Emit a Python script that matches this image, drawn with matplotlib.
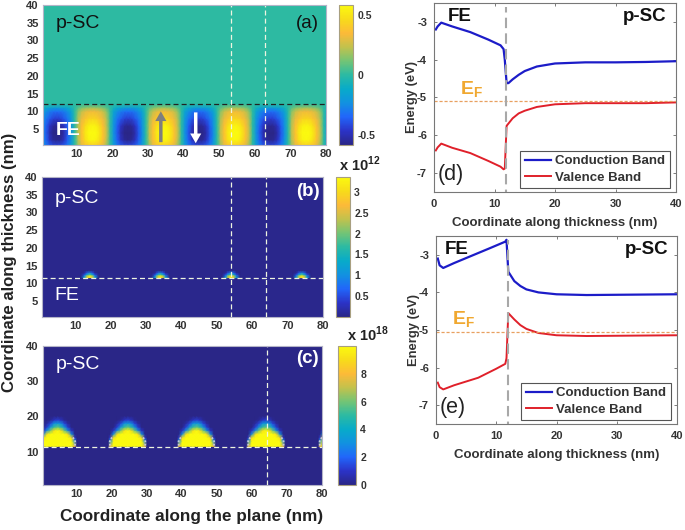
import numpy as np
import matplotlib
matplotlib.use('Agg')
import matplotlib.pyplot as plt
from matplotlib.colors import LinearSegmentedColormap

plt.rcParams['font.family'] = ['Liberation Sans', 'DejaVu Sans']
plt.rcParams['mathtext.fontset'] = 'custom'
plt.rcParams['mathtext.rm'] = 'Liberation Sans'
plt.rcParams['mathtext.bf'] = 'Liberation Sans:bold'

# panel (a), polarisation charge: one domain, repeated with alternating sign
a_centres = [4.4, 14.4, 24.4, 34.4, 44.4, 54.4, 64.4, 74.4, 84.4]
a_signs = [-1, 1, -1, 1, -1, 1, -1, 1, -1]
a_dx = [-5, -4, -3, -2, -1, 0, 1, 2, 3, 4, 5]
a_z = [0.5, 2, 4, 6, 8, 10, 11, 12]
a_blob = [[0, 0.18, 0.30, 0.38, 0.42, 0.43, 0.42, 0.38, 0.30, 0.18, 0],
          [0, 0.22, 0.36, 0.48, 0.55, 0.57, 0.55, 0.48, 0.36, 0.22, 0],
          [0, 0.24, 0.38, 0.51, 0.58, 0.58, 0.58, 0.51, 0.38, 0.24, 0],
          [0, 0.22, 0.36, 0.47, 0.54, 0.56, 0.54, 0.47, 0.36, 0.22, 0],
          [0, 0.20, 0.31, 0.38, 0.43, 0.44, 0.43, 0.38, 0.31, 0.20, 0],
          [0, 0.15, 0.24, 0.29, 0.32, 0.33, 0.32, 0.29, 0.24, 0.15, 0],
          [0, 0.08, 0.14, 0.17, 0.19, 0.20, 0.19, 0.17, 0.14, 0.08, 0],
          [0, 0, 0, 0, 0, 0, 0, 0, 0, 0, 0]]

# panel (b), one electron pocket at the interface
b_centres = [14, 34, 54, 74]
b_dx = [-2.5, -1.5, -1, -0.5, 0, 0.5, 1, 1.5, 2.5]
b_z = [11.6, 12, 12.5, 13, 13.5]
b_blob = [[0, 1.2, 2.0, 2.6, 3.0, 2.6, 2.0, 1.2, 0],
          [0, 1.0, 2.2, 3.0, 3.3, 3.0, 2.2, 1.0, 0],
          [0, 0.5, 1.1, 1.6, 1.9, 1.6, 1.1, 0.5, 0],
          [0, 0.1, 0.5, 0.8, 1.0, 0.8, 0.5, 0.1, 0],
          [0, 0, 0, 0, 0, 0, 0, 0, 0]]

# panel (c), one hole dome above the interface
c_centres = [4.6, 24.6, 44.2, 64.0, 84.4]
c_dx = [-5.5, -5, -4, -3, -2, -1, 0, 1, 2, 3, 4, 5, 5.5]
c_z = [11.5, 13, 14, 15, 16, 17, 18, 19, 20]
c_blob = [[0, 8, 14, 14, 14, 14, 14, 14, 14, 14, 14, 8, 0],
          [0, 3, 13, 14, 14, 14, 14, 14, 14, 14, 13, 3, 0],
          [0, 1, 9, 13, 14, 14, 14, 14, 14, 13, 9, 1, 0],
          [0, 0, 3, 9, 13, 14, 14, 14, 13, 9, 3, 0, 0],
          [0, 0, 1.0, 3, 6, 9, 10.5, 9, 6, 3, 1.0, 0, 0],
          [0, 0, 0, 1.2, 3, 5, 5.8, 5, 3, 1.2, 0, 0, 0],
          [0, 0, 0, 0.4, 1.4, 3, 3.5, 3, 1.4, 0.4, 0, 0, 0],
          [0, 0, 0, 0, 0.2, 0.9, 1.3, 0.9, 0.2, 0, 0, 0, 0],
          [0, 0, 0, 0, 0, 0, 0, 0, 0, 0, 0, 0, 0]]
c_fringe_dx = [4.4, 5.0, 5.1, 5.0]
c_fringe_z = [14.0, 13.3, 12.5, 11.7]

# band diagrams
d_x_c = [0.3, 0.6, 1.2, 3, 6, 9, 11, 11.5, 11.7, 12, 12.3, 13, 14, 15, 17, 20, 25, 30, 35, 40]
d_cond = [-3.2, -3.12, -3.02, -3.12, -3.27, -3.47, -3.62, -3.72, -4.0, -4.62, -4.62, -4.52,
          -4.4, -4.3, -4.18, -4.1, -4.07, -4.07, -4.06, -4.04]
d_x_v = [0.3, 0.6, 1.2, 3, 6, 9, 11, 11.5, 11.7, 12, 12.5, 13, 14, 15, 17, 20, 25, 30, 35, 40]
d_val = [-6.4, -6.32, -6.22, -6.33, -6.47, -6.68, -6.83, -6.9, -6.88, -5.75, -5.65, -5.55,
         -5.42, -5.35, -5.25, -5.18, -5.15, -5.15, -5.15, -5.13]
e_x_c = [0.3, 0.6, 1.2, 3, 6, 9, 11.5, 11.7, 12, 13, 14, 15, 17, 20, 25, 40]
e_cond = [-3.1, -3.28, -3.35, -3.22, -3.02, -2.82, -2.65, -2.6, -3.45, -3.7, -3.83, -3.92,
          -4.0, -4.05, -4.07, -4.05]
e_x_v = [0.3, 0.6, 1.2, 3, 7, 10, 11.5, 11.7, 12, 13, 14, 15, 17, 20, 25, 40]
e_val = [-6.4, -6.52, -6.58, -6.47, -6.27, -6.03, -5.9, -5.75, -4.55, -4.72, -4.87, -4.97,
         -5.08, -5.14, -5.16, -5.14]
d_fermi = -5.1
e_fermi = -5.05

parula = LinearSegmentedColormap.from_list('parula', [
    (0.165, 0.150, 0.530), (0.170, 0.200, 0.780), (0.130, 0.400, 0.980),
    (0.070, 0.570, 0.880), (0.030, 0.670, 0.790), (0.170, 0.730, 0.640),
    (0.450, 0.770, 0.460), (0.760, 0.760, 0.300), (0.990, 0.730, 0.220),
    (0.970, 0.860, 0.100), (0.985, 0.980, 0.060)])

W, H = 685, 530
fig = plt.figure(figsize=(6.85, 5.30), dpi=100)
TICK = '#333333'
FRAME = '#b4b4c8'


def px_axes(left, top, right, bottom):
    return fig.add_axes([left / W, 1 - bottom / H, (right - left) / W, (bottom - top) / H])


def style_map(ax, yticks):
    ax.set_xlim(0.5, 80)
    ax.set_ylim(0.5, 40)
    ax.set_xticks(range(10, 81, 10))
    ax.set_yticks(yticks)
    ax.tick_params(length=0, labelsize=8, labelcolor=TICK, pad=3)
    for label in ax.get_xticklabels() + ax.get_yticklabels():
        label.set_fontweight('bold')
    for s in ax.spines.values():
        s.set_color(FRAME)
        s.set_linewidth(0.8)


def add_cbar(mesh, left, top, right, bottom, ticks, labels):
    cax = px_axes(left, top, right, bottom)
    cb = fig.colorbar(mesh, cax=cax)
    cb.set_ticks(ticks)
    cb.set_ticklabels(labels)
    cb.ax.tick_params(length=0, labelsize=7.5, labelcolor=TICK, pad=3)
    for label in cb.ax.get_yticklabels():
        label.set_fontweight('bold')
    cb.outline.set_edgecolor('#a89f80')
    cb.outline.set_linewidth(0.8)


def hdash(ax, z, color):
    ax.axhline(z, color=color, lw=0.9, ls=(0, (4, 2.5)))


def vdash(ax, x, color='#eef4e0'):
    ax.axvline(x, color=color, lw=0.9, ls=(0, (4, 2.5)))


# (a)
ax = px_axes(43, 5, 326, 145)
m = ax.pcolormesh([0, 90], [0, 40], [[0]], cmap=parula, vmin=-0.58, vmax=0.58)
for c, sign in zip(a_centres, a_signs):
    ax.pcolormesh(np.array(a_dx) + c, a_z, sign * np.array(a_blob), shading='gouraud',
                  cmap=parula, vmin=-0.58, vmax=0.58)
style_map(ax, range(5, 41, 5))
hdash(ax, 12, '#222222')
vdash(ax, 53.3)
vdash(ax, 63)
ax.annotate('', xy=(33.6, 10), xytext=(33.6, 1.3),
            arrowprops=dict(facecolor='#7f7f7f', edgecolor='none', width=2.5, headwidth=8, headlength=7))
ax.annotate('', xy=(43.4, 1), xytext=(43.4, 9.7),
            arrowprops=dict(facecolor='white', edgecolor='none', width=2.5, headwidth=8, headlength=7))
ax.text(4, 34.8, 'p-SC', fontsize=14, color='#111111', va='center')
ax.text(4, 4.6, 'FE', fontsize=14, color='white', va='center', fontweight='bold')
ax.text(78, 34.8, '(a)', fontsize=13.5, color='#111111', va='center', ha='right')
add_cbar(m, 339, 5, 353, 145, [-0.5, 0, 0.5], ['-0.5', '0', '0.5'])

# (b)
ax = px_axes(42, 177, 323, 317)
m = ax.pcolormesh([0, 80], [0, 40], [[0.03]], cmap=parula, vmin=0, vmax=3.36)
for c in b_centres:
    ax.pcolormesh(np.array(b_dx) + c, b_z, b_blob, shading='gouraud', cmap=parula, vmin=0, vmax=3.36)
style_map(ax, range(5, 41, 5))
hdash(ax, 11.5, '#eef4e0')
vdash(ax, 54)
vdash(ax, 63.8)
ax.text(4, 34, 'p-SC', fontsize=14, color='white', va='center')
ax.text(4, 6.5, 'FE', fontsize=14, color='white', va='center')
ax.text(79, 36, '(b)', fontsize=13.5, color='white', va='center', ha='right', fontweight='bold')
add_cbar(m, 336, 177, 350, 317, [0.5, 1, 1.5, 2, 2.5, 3], ['0.5', '1', '1.5', '2', '2.5', '3'])

# (c)
ax = px_axes(43, 346, 322, 485)
m = ax.pcolormesh([0, 90], [0, 40], [[0]], cmap=parula, vmin=0, vmax=10)
for c in c_centres:
    ax.pcolormesh(np.array(c_dx) + c, c_z, c_blob, shading='gouraud', cmap=parula, vmin=0, vmax=10)
    for side in (-1, 1):
        ax.plot(c + side * np.array(c_fringe_dx), c_fringe_z, color='#c8c8d4', lw=1.3, ls=(0, (1, 1)))
style_map(ax, [10, 20, 30, 40])
hdash(ax, 11.4, '#eef4e0')
vdash(ax, 64.2)
ax.text(4, 34.7, 'p-SC', fontsize=14, color='white', va='center')
ax.text(79, 36.5, '(c)', fontsize=13.5, color='white', va='center', ha='right', fontweight='bold')
add_cbar(m, 338, 346, 356, 485, [0, 2, 4, 6, 8], ['0', '2', '4', '6', '8'])

fig.text(339 / W, 1 - 164 / H, r'x 10$^{\mathbf{12}}$', fontsize=10.5, fontweight='bold',
         color='#222222', va='center')
fig.text(347 / W, 1 - 334 / H, r'x 10$^{\mathbf{18}}$', fontsize=10.5, fontweight='bold',
         color='#222222', va='center')
fig.text(10 / W, 1 - 262 / H, 'Coordinate along thickness (nm)', rotation=90, fontsize=12.1,
         fontweight='bold', color='#222222', va='center', ha='center')
fig.text(192 / W, 1 - 517 / H, 'Coordinate along the plane (nm)', fontsize=12.3,
         fontweight='bold', color='#222222', va='center', ha='center')


def band_panel(box, xc, cond, xv, val, fermi, tag, ef_xy, fe_x):
    ax = px_axes(*box)
    ax.plot(xc, cond, color='#1c1cc8', lw=1.6, label='Conduction Band')
    ax.plot(xv, val, color='#e0202a', lw=1.4, label='Valence Band')
    ax.axhline(fermi, color='#e8a060', lw=0.9, ls=(0, (2.5, 1.5)))
    ax.plot([11.9, 11.9], [-7.7, -2.6], color='#a8a8a8', lw=1.5, ls=(0, (5, 2.5)))
    ax.set_xlim(0, 40)
    ax.set_ylim(-7.5, -2.5)
    ax.set_xticks([0, 10, 20, 30, 40])
    ax.set_yticks([-7, -6, -5, -4, -3])
    ax.set_yticklabels(['-7', '-6', '-5', '-4', '-3'])
    ax.tick_params(direction='in', length=2, width=0.6, color='#666666', labelsize=8,
                   labelcolor=TICK, pad=5, top=True, right=True)
    for label in ax.get_xticklabels() + ax.get_yticklabels():
        label.set_fontweight('bold')
    for s in ax.spines.values():
        s.set_color('#777777')
        s.set_linewidth(0.8)
    ax.set_xlabel('Coordinate along thickness (nm)', fontsize=9.5, fontweight='bold', color='#333333', labelpad=6)
    ax.set_ylabel('Energy (eV)', fontsize=9.4, fontweight='bold', color='#333333', labelpad=-1)
    ax.text(fe_x, -2.86, 'FE', fontsize=13.5, fontweight='bold', color='#111111', va='center')
    ax.text(38.5, -2.86, 'p-SC', fontsize=13.5, fontweight='bold', color='#111111', va='center', ha='right')
    ax.text(0.6, -7.05, tag, fontsize=15.5, color='#222222', va='center')
    ax.text(ef_xy[0], ef_xy[1], r'E$_{\mathbf{F}}$', fontsize=14, color='#f0a830', va='center', fontweight='bold')
    leg = ax.legend(loc='lower right', bbox_to_anchor=(0.975, 0.02), borderaxespad=0,
                    prop={'weight': 'bold', 'size': 9.5}, fancybox=False, framealpha=1,
                    edgecolor='#555555', handlelength=2.0, handletextpad=0.3, labelspacing=0.3,
                    borderpad=0.35)
    leg.get_frame().set_linewidth(0.8)
    for text in leg.get_texts():
        text.set_color('#333333')


band_panel((434, 3, 676, 192), d_x_c, d_cond, d_x_v, d_val, d_fermi, '(d)', (4.3, -4.8), 2.3)
band_panel((436, 236, 677, 424), e_x_c, e_cond, e_x_v, e_val, e_fermi, '(e)', (2.7, -4.72), 1.5)

fig.savefig('out.png', dpi=100)
